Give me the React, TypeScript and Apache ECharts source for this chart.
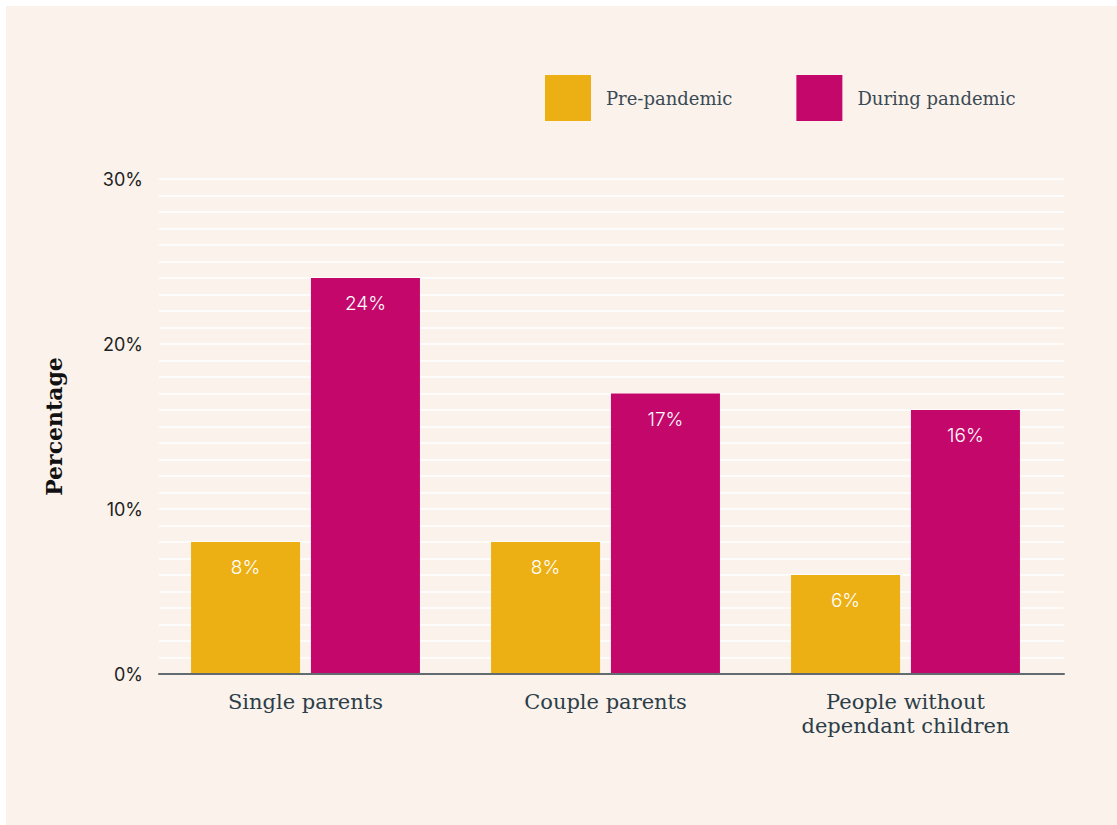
import React, { useEffect, useRef } from "react";
import * as echarts from "echarts";

const categories = ["Single parents", "Couple parents", "People without\ndependant children"];
const prePandemic = [8, 8, 6];
const duringPandemic = [24, 17, 16];
const seriesNames = ["Pre-pandemic", "During pandemic"];
const yMin = 0;
const yMax = 30;
const yStep = 10;

const SLAB = "'DejaVu Serif', 'Liberation Serif', serif";
const SANS = "Inter, 'Noto Sans', sans-serif";

export default function App() {
  const ref = useRef<HTMLDivElement>(null);
  useEffect(() => {
    const chart = echarts.init(ref.current!, null, { renderer: "svg" });
    const label = {
      show: true,
      position: "insideTop",
      distance: 16,
      color: "#ffffff",
      fontFamily: SANS,
      fontWeight: 300,
      fontSize: 19,
      formatter: (p: any) => p.value + "%",
    };
    chart.setOption({
      animation: false,
      backgroundColor: "#ffffff",
      graphic: [
        {
          type: "rect",
          shape: { x: 6, y: 6, width: 1111, height: 819 },
          style: { fill: "#FBF2EC" },
          z: -10,
          silent: true,
        },
      ],
      legend: {
        left: 540,
        top: 70,
        itemWidth: 46,
        itemHeight: 46,
        itemGap: 64,
        icon: "rect",
        textStyle: {
          fontFamily: SLAB,
          fontSize: 18,
          color: "#3a4a54",
          padding: [0, 0, 0, 10],
        },
        data: seriesNames,
      },
      grid: [
        { left: 159, right: 53, top: 179, bottom: 151 },
        { left: 155.5, right: 61.5, top: 179, bottom: 151 },
      ],
      xAxis: [
        {
          type: "category",
          gridIndex: 0,
          data: categories,
          axisLine: { lineStyle: { color: "#626c70", width: 2 } },
          axisTick: { show: false },
          axisLabel: { show: false },
          z: 5,
        },
        {
          type: "category",
          gridIndex: 1,
          data: categories,
          axisLine: { show: false },
          axisTick: { show: false },
          axisLabel: {
            fontFamily: SLAB,
            fontSize: 21,
            color: "#2c3e48",
            margin: 16,
            lineHeight: 24,
          },
        },
      ],
      yAxis: [
        {
          type: "value",
          gridIndex: 0,
          min: yMin,
          max: yMax,
          interval: yStep,
          name: "Percentage",
          nameLocation: "middle",
          nameGap: 94,
          nameRotate: 90,
          nameTextStyle: {
            fontFamily: SLAB,
            fontWeight: 900,
            fontSize: 22,
            color: "#111111",
          },
          axisLabel: {
            formatter: "{value}%",
            fontFamily: SANS,
            fontSize: 18,
            color: "#222222",
            margin: 16,
          },
          axisLine: { show: false },
          axisTick: { show: false },
          splitLine: { lineStyle: { color: "#ffffff", width: 1.5 } },
          minorTick: { show: false, splitNumber: 10 },
          minorSplitLine: { show: true, lineStyle: { color: "#ffffff", width: 1.5 } },
        },
        {
          type: "value",
          gridIndex: 1,
          min: yMin,
          max: yMax,
          interval: yStep,
          show: false,
          splitLine: { show: false },
        },
      ],
      series: [
        {
          name: seriesNames[0],
          type: "bar",
          xAxisIndex: 1,
          yAxisIndex: 1,
          data: prePandemic,
          barWidth: 109,
          barGap: "10%",
          itemStyle: { color: "#ECB015" },
          label,
        },
        {
          name: seriesNames[1],
          type: "bar",
          xAxisIndex: 1,
          yAxisIndex: 1,
          data: duringPandemic,
          barWidth: 109,
          barGap: "10%",
          itemStyle: { color: "#C4086B" },
          label,
        },
      ],
    });
    return () => chart.dispose();
  }, []);
  return (
    <div
      ref={ref}
      style={{ position: "fixed", left: 0, top: 0, width: 1117, height: 825 }}
    />
  );
}
